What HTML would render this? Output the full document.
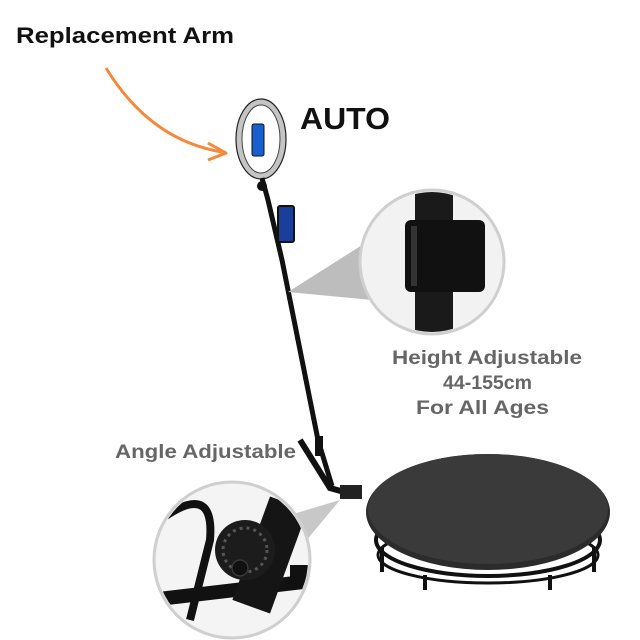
<!DOCTYPE html>
<html><head><meta charset="utf-8"><style>
html,body{margin:0;padding:0;background:#fff;width:640px;height:640px;overflow:hidden}
svg{display:block}
</style></head><body>
<svg width="640" height="640" viewBox="0 0 640 640" xmlns="http://www.w3.org/2000/svg">
<rect width="640" height="640" fill="#fff"/>
<text x="16" y="43" textLength="218" lengthAdjust="spacingAndGlyphs" font-family="Liberation Sans, sans-serif" font-weight="bold" font-size="22" fill="#111">Replacement Arm</text>
<path d="M106 68 Q150 140 222 152" fill="none" stroke="#f5883a" stroke-width="3"/>
<path d="M208 143 L226 153 L208 160" fill="none" stroke="#f5883a" stroke-width="3" stroke-linejoin="round"/>
<text x="300" y="129" textLength="90" lengthAdjust="spacingAndGlyphs" font-family="Liberation Sans, sans-serif" font-weight="bold" font-size="31" fill="#111">AUTO</text>
<!-- ring light -->
<ellipse cx="261" cy="139" rx="22" ry="37" fill="none" stroke="#c4c4c4" stroke-width="6"/>
<ellipse cx="261" cy="139" rx="25" ry="40" fill="none" stroke="#222" stroke-width="1.2"/>
<ellipse cx="261" cy="139" rx="19" ry="34" fill="none" stroke="#444" stroke-width="1"/>
<rect x="252" y="124" width="12" height="32" rx="2" fill="#1a5fcf" stroke="#111"/>
<!-- pole -->
<path d="M262 178 L268 200 L282 260 L300 350 L318 440 L332 486" fill="none" stroke="#111" stroke-width="5"/>
<circle cx="262" cy="186" r="5" fill="#111"/>
<rect x="278" y="206" width="16" height="36" rx="2" fill="#1a3f9a" stroke="#111" stroke-width="2"/>
<path d="M300 440 L330 488 L355 495" fill="none" stroke="#111" stroke-width="6"/>
<rect x="315" y="436" width="8" height="20" fill="#111"/>
<!-- cone top -->
<polygon points="288,292 370,240 372,300" fill="#bdbdbd"/>
<!-- top magnifier -->
<circle cx="432" cy="262" r="72" fill="#f2f2f2" stroke="#cfcfcf" stroke-width="3"/>
<clipPath id="c1"><circle cx="432" cy="262" r="70"/></clipPath>
<g clip-path="url(#c1)">
<rect x="415" y="180" width="38" height="170" fill="#1a1a1a"/>
<rect x="405" y="220" width="80" height="72" rx="6" fill="#111"/>
<rect x="411" y="226" width="6" height="60" fill="#333"/>
</g>
<text x="392" y="364" textLength="190" lengthAdjust="spacingAndGlyphs" font-family="Liberation Sans, sans-serif" font-weight="bold" font-size="19" fill="#666">Height Adjustable</text>
<text x="443" y="389" textLength="89" lengthAdjust="spacingAndGlyphs" font-family="Liberation Sans, sans-serif" font-weight="bold" font-size="19" fill="#666">44-155cm</text>
<text x="416" y="414" textLength="133" lengthAdjust="spacingAndGlyphs" font-family="Liberation Sans, sans-serif" font-weight="bold" font-size="19" fill="#666">For All Ages</text>
<text x="115" y="458" textLength="181" lengthAdjust="spacingAndGlyphs" font-family="Liberation Sans, sans-serif" font-weight="bold" font-size="19" fill="#666">Angle Adjustable</text>
<!-- platform -->
<path d="M382 548 L382 572 M425 575 L425 590 M550 575 L550 590 M594 548 L594 572" stroke="#111" stroke-width="4"/>
<ellipse cx="488" cy="555" rx="110" ry="28" fill="none" stroke="#111" stroke-width="3"/>
<ellipse cx="488" cy="540" rx="112" ry="36" fill="none" stroke="#111" stroke-width="4"/>
<ellipse cx="488" cy="512" rx="122" ry="58" fill="#2b2b2b"/>
<ellipse cx="488" cy="509" rx="120" ry="55" fill="#3a3a3a"/>
<rect x="340" y="485" width="22" height="14" fill="#222"/>
<!-- cone bottom -->
<polygon points="340,500 290,515 300,548" fill="#c8c8c8"/>
<!-- bottom magnifier -->
<circle cx="232" cy="560" r="78" fill="#f4f4f4" stroke="#cfcfcf" stroke-width="3"/>
<clipPath id="c2"><circle cx="232" cy="560" r="76"/></clipPath>
<g clip-path="url(#c2)">
<path d="M160 520 Q215 480 210 540 L190 620" fill="none" stroke="#111" stroke-width="8"/>
<path d="M150 600 L320 580" stroke="#111" stroke-width="14"/>
<rect x="250" y="500" width="40" height="110" fill="#151515" transform="rotate(20 270 555)"/>
<circle cx="245" cy="550" r="30" fill="#1c1c1c"/>
<circle cx="245" cy="550" r="22" fill="none" stroke="#555" stroke-width="3" stroke-dasharray="3 4"/>
<circle cx="240" cy="568" r="8" fill="#111" stroke="#444"/>
<rect x="290" y="565" width="22" height="16" fill="#111"/>
</g>
</svg>
</body></html>
